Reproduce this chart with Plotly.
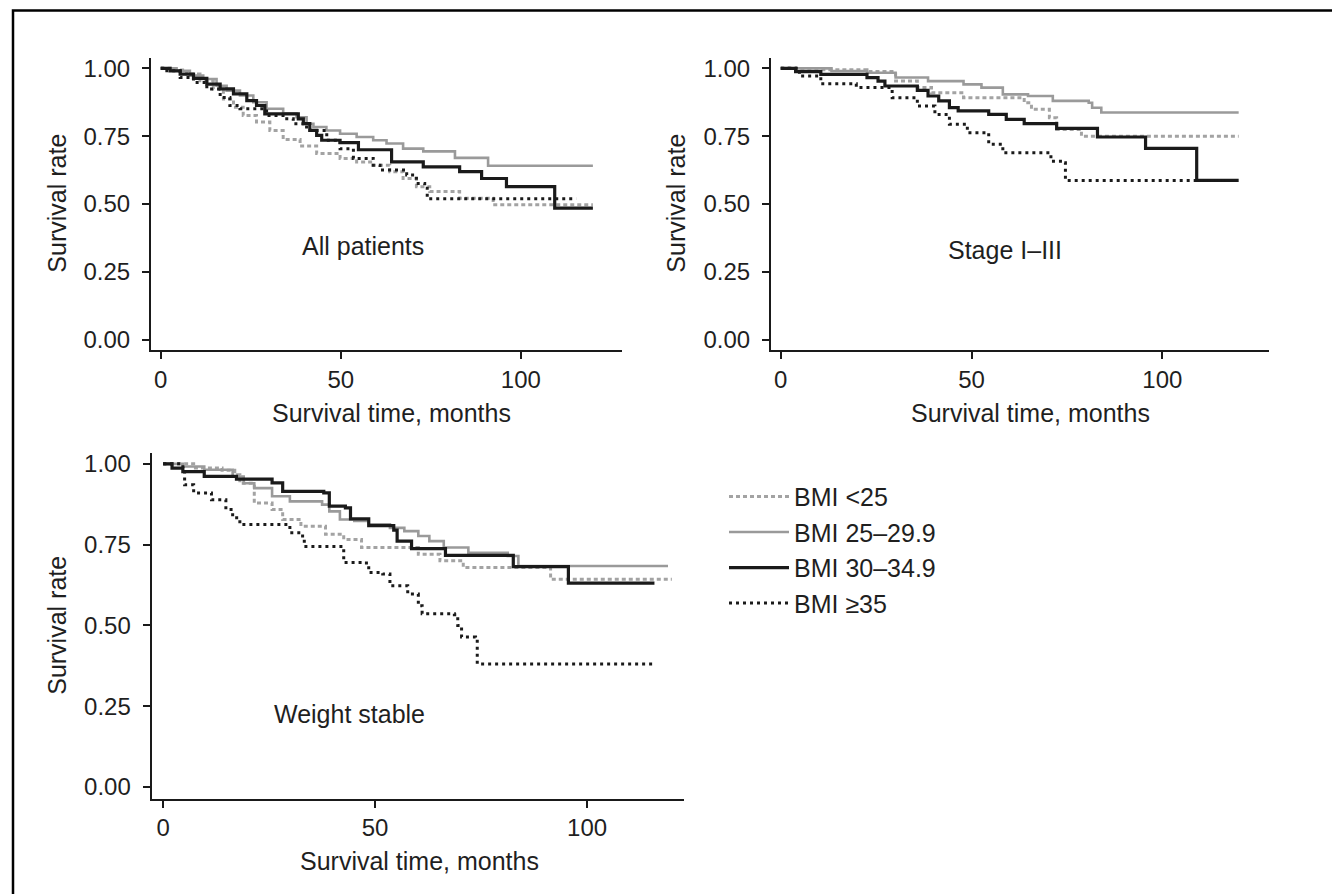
import plotly.graph_objects as go

# ---------------- data (months, survival) ----------------
# Panel 1: All patients
all_lt25_t = [0, 3.5, 7.2, 10.9, 14.6, 17.4, 20.2, 22.9, 26.6, 30.3, 34.0, 38.7, 43.3, 49.8, 54.4, 59.0, 63.6, 67.3, 71.0, 74.7, 83.0, 92.3, 120]
all_lt25_s = [1.0, 0.994, 0.979, 0.954, 0.924, 0.887, 0.857, 0.826, 0.802, 0.771, 0.738, 0.714, 0.686, 0.668, 0.655, 0.643, 0.619, 0.594, 0.564, 0.546, 0.521, 0.497, 0.497]
all_25_t = [0, 4.4, 8.1, 11.8, 15.5, 18.3, 22.0, 25.7, 29.4, 34.0, 37.7, 40.5, 42.4, 46.0, 49.8, 54.4, 59.0, 62.7, 67.3, 72.9, 81.7, 90.9, 120]
all_25_s = [1.0, 0.991, 0.973, 0.961, 0.936, 0.918, 0.900, 0.875, 0.851, 0.833, 0.820, 0.796, 0.784, 0.771, 0.759, 0.747, 0.735, 0.723, 0.704, 0.694, 0.670, 0.641, 0.641]
all_30_t = [0, 2.6, 5.4, 9.1, 12.8, 16.5, 20.2, 23.9, 26.6, 28.9, 38.2, 39.6, 41.4, 43.3, 44.7, 49.8, 54.9, 64.1, 72.9, 83.0, 89.1, 96.0, 109.4, 120]
all_30_s = [1.0, 0.991, 0.979, 0.963, 0.942, 0.924, 0.906, 0.881, 0.863, 0.832, 0.814, 0.796, 0.771, 0.753, 0.735, 0.726, 0.700, 0.655, 0.637, 0.619, 0.594, 0.564, 0.485, 0.485]
all_35_t = [0, 1.7, 5.4, 9.1, 12.8, 16.5, 19.2, 22.0, 29.4, 35.0, 36.8, 40.5, 46.1, 49.8, 53.5, 59.0, 60.9, 68.3, 71.0, 73.3, 74.0, 115.4]
all_35_s = [1.0, 0.991, 0.966, 0.948, 0.924, 0.893, 0.863, 0.851, 0.826, 0.814, 0.796, 0.771, 0.735, 0.704, 0.668, 0.643, 0.625, 0.607, 0.576, 0.558, 0.519, 0.519]

# Panel 2: Stage I-III
st_lt25_t = [0, 3.9, 22.6, 30.1, 35.8, 39.5, 47.9, 63.8, 65.7, 70.4, 72.3, 78.8, 120]
st_lt25_s = [1.0, 0.995, 0.988, 0.953, 0.929, 0.910, 0.892, 0.873, 0.849, 0.818, 0.775, 0.750, 0.750]
st_25_t = [0, 13.3, 22.6, 30.1, 38.6, 47.9, 52.6, 58.2, 64.8, 71.3, 80.7, 81.6, 84.0, 120]
st_25_s = [1.0, 0.990, 0.984, 0.966, 0.953, 0.941, 0.929, 0.904, 0.898, 0.880, 0.873, 0.855, 0.837, 0.837]
st_30_t = [0, 3.9, 10.5, 22.6, 25.5, 27.3, 35.8, 38.6, 41.4, 44.2, 46.5, 54.5, 59.1, 63.8, 72.3, 83.0, 95.6, 109.0, 120]
st_30_s = [1.0, 0.988, 0.978, 0.966, 0.953, 0.935, 0.919, 0.898, 0.880, 0.855, 0.843, 0.830, 0.812, 0.796, 0.779, 0.747, 0.705, 0.587, 0.587]
st_35_t = [0, 4.9, 10.5, 19.8, 29.2, 35.8, 40.4, 44.2, 48.9, 54.5, 58.2, 70.8, 74.1, 74.6, 116.2]
st_35_s = [1.0, 0.972, 0.943, 0.929, 0.892, 0.861, 0.830, 0.794, 0.763, 0.720, 0.689, 0.658, 0.652, 0.587, 0.587]

# Panel 3: Weight stable
ws_lt25_t = [0, 7.2, 13.9, 16.9, 18.1, 21.5, 25.7, 28.2, 32.5, 38.3, 42.6, 46.8, 60.2, 65.3, 70.8, 91.4, 120]
ws_lt25_s = [1.0, 0.987, 0.980, 0.966, 0.940, 0.879, 0.859, 0.828, 0.807, 0.782, 0.766, 0.741, 0.720, 0.700, 0.679, 0.643, 0.643]
ws_25_t = [0, 4.65, 9.7, 16.4, 19.0, 21.5, 25.7, 29.9, 37.5, 39.2, 41.7, 45.1, 48.5, 53.5, 56.9, 60.2, 62.8, 66.2, 72.0, 81.3, 83.8, 119.1]
ws_25_s = [1.0, 0.992, 0.982, 0.961, 0.940, 0.925, 0.900, 0.884, 0.874, 0.853, 0.828, 0.823, 0.813, 0.802, 0.792, 0.777, 0.761, 0.741, 0.725, 0.715, 0.684, 0.684]
ws_30_t = [0, 2.1, 4.65, 9.7, 17.3, 25.7, 28.2, 37.9, 39.2, 43.0, 44.2, 48.5, 54.4, 55.2, 58.6, 66.6, 82.6, 95.6, 115.9]
ws_30_s = [1.0, 0.987, 0.976, 0.961, 0.953, 0.941, 0.915, 0.910, 0.869, 0.864, 0.830, 0.809, 0.795, 0.761, 0.738, 0.717, 0.682, 0.631, 0.631]
ws_35_t = [0, 4.65, 5.07, 7.2, 11.4, 14.8, 16.4, 18.1, 29.9, 32.9, 33.3, 42.6, 47.6, 48.5, 51.8, 53.5, 57.7, 60.2, 61.1, 68.7, 69.5, 70.4, 73.7, 74.1, 115.7]
ws_35_s = [1.0, 0.976, 0.935, 0.910, 0.889, 0.859, 0.833, 0.812, 0.787, 0.766, 0.744, 0.695, 0.693, 0.664, 0.659, 0.623, 0.597, 0.561, 0.536, 0.533, 0.500, 0.464, 0.459, 0.381, 0.381]

group_names = ["BMI <25", "BMI 25\u201329.9", "BMI 30\u201334.9", "BMI \u226535"]
panel_labels = ["All patients", "Stage I\u2013III", "Weight stable"]
x_title = "Survival time, months"
y_title = "Survival rate"
y_ticks = [0.00, 0.25, 0.50, 0.75, 1.00]
y_tick_text = ["0.00", "0.25", "0.50", "0.75", "1.00"]
x_ticks = [0, 50, 100]

# ---------------- styling ----------------
GRAY = "#9a9a9a"
BLACK = "#1a1a1a"
styles = [
    dict(color="#a3a3a3", width=3, dash="4px,3px"),
    dict(color=GRAY, width=2.6, dash="solid"),
    dict(color=BLACK, width=3.2, dash="solid"),
    dict(color=BLACK, width=3, dash="3px,4px"),
]
FONT = "Liberation Sans, Arial, Helvetica, sans-serif"
TXT = "#1f1f1f"

panels = [
    ([(all_lt25_t, all_lt25_s), (all_25_t, all_25_s), (all_30_t, all_30_s), (all_35_t, all_35_s)], "x", "y"),
    ([(st_lt25_t, st_lt25_s), (st_25_t, st_25_s), (st_30_t, st_30_s), (st_35_t, st_35_s)], "x2", "y2"),
    ([(ws_lt25_t, ws_lt25_s), (ws_25_t, ws_25_s), (ws_30_t, ws_30_s), (ws_35_t, ws_35_s)], "x3", "y3"),
]

fig = go.Figure()
for pi, (curves, xa, ya) in enumerate(panels):
    for gi, (t, s) in enumerate(curves):
        fig.add_trace(go.Scatter(
            x=t, y=s, mode="lines", line_shape="hv",
            line=styles[gi], name=group_names[gi],
            showlegend=(pi == 2), legendgroup=group_names[gi],
            xaxis=xa, yaxis=ya, hoverinfo="skip",
        ))

W, H = 1332, 894

def dom_x(a, b):
    return [a / W, b / W]

def dom_y(top, bottom):
    return [1 - bottom / H, 1 - top / H]

axis_common = dict(
    showline=True, linecolor=BLACK, linewidth=2,
    ticks="outside", ticklen=7, tickwidth=2, tickcolor=BLACK,
    showgrid=False, zeroline=False,
    tickfont=dict(family=FONT, size=24, color=TXT),
)
ystand = dict(ticklabelstandoff=7)

layout = dict(
    width=W, height=H,
    margin=dict(l=0, r=0, t=0, b=0),
    paper_bgcolor="white", plot_bgcolor="white",
    font=dict(family=FONT, color=TXT),
    xaxis=dict(domain=dom_x(151, 621.7), range=[-2.7, 128], tickvals=x_ticks, anchor="y", **axis_common),
    yaxis=dict(domain=dom_y(55, 349.3), range=[-0.038, 1.0395], tickvals=y_ticks, ticktext=y_tick_text, anchor="x", **ystand, **axis_common),
    xaxis2=dict(domain=dom_x(771, 1269.2), range=[-2.55, 128], tickvals=x_ticks, anchor="y2", **axis_common),
    yaxis2=dict(domain=dom_y(55, 349.3), range=[-0.038, 1.0395], tickvals=y_ticks, ticktext=y_tick_text, anchor="x2", **ystand, **axis_common),
    xaxis3=dict(domain=dom_x(151.6, 683.7), range=[-2.72, 122.8], tickvals=x_ticks, anchor="y3", **axis_common),
    yaxis3=dict(domain=dom_y(452.7, 801), range=[-0.036, 1.0347], tickvals=y_ticks, ticktext=y_tick_text, anchor="x3", **ystand, **axis_common),
    legend=dict(
        x=724 / W, y=1 - 474 / H, xanchor="left", yanchor="top",
        font=dict(family=FONT, size=25, color=TXT),
        bgcolor="rgba(0,0,0,0)", tracegroupgap=0, itemwidth=60,
    ),
    showlegend=True,
)
fig.update_layout(**layout)

# panel labels (data coordinates)
label_pos = [(56.3, 0.344, "x", "y"), (58.7, 0.332, "x2", "y2"), (44.0, 0.225, "x3", "y3")]
for (lx, ly, xr, yr), txt in zip(label_pos, panel_labels):
    fig.add_annotation(x=lx, y=ly, xref=xr, yref=yr, text=txt, showarrow=False,
                       font=dict(family=FONT, size=25, color=TXT))

# axis titles placed as text in paper space
title_font = dict(family=FONT, size=25, color=TXT)
x_title_pos = [(391.7, 412.7), (1030.5, 412.7), (419.7, 863.3)]
y_title_pos = [(57, 202), (676, 202), (57, 627)]
for (px, py) in x_title_pos:
    fig.add_annotation(x=px / W, y=1 - py / H, xref="paper", yref="paper", text=x_title,
                       showarrow=False, font=title_font, xanchor="center", yanchor="middle")
for (px, py) in y_title_pos:
    fig.add_annotation(x=px / W, y=1 - py / H, xref="paper", yref="paper", text=y_title,
                       showarrow=False, font=title_font, textangle=-90,
                       xanchor="center", yanchor="middle")

# outer frame (only top and left edges fall inside the picture)
fig.add_shape(type="rect", xref="paper", yref="paper",
              x0=13 / W, y0=-0.2, x1=1.2, y1=1 - 7.5 / H,
              line=dict(color="black", width=2.5), fillcolor="rgba(0,0,0,0)")

fig.write_html("out.html")
